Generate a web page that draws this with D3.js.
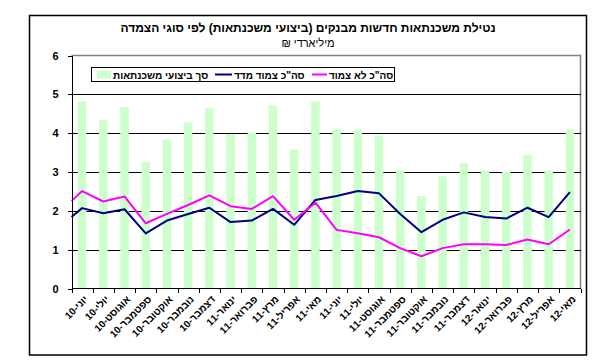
<!DOCTYPE html>
<html lang="he">
<head>
  <meta charset="UTF-8" />
  <title>נטילת משכנתאות חדשות מבנקים</title>
  <style>
    body { margin: 0; background: #fff; }
    svg text { font-family: 'Liberation Sans', Arial, sans-serif; fill: #000; }
    .grid line { stroke: #000; stroke-width: 1px; shape-rendering: crispEdges; }
    .axis path, .axis line { stroke: #000; shape-rendering: crispEdges; }
    .axis text { font-weight: bold; }
    .line { fill: none; stroke-width: 2px; stroke-linejoin: round; }
  </style>
</head>
<body>
  <svg id="chart" width="602" height="361"></svg>

  <script src="https://d3js.org/d3.v7.min.js"></script>
  <script>
    // months (x categories)
    const months = ["יוני-10", "יולי-10", "אוגוסט-10", "ספטמבר-10", "אוקטובר-10", "נובמבר-10",
      "דצמבר-10", "ינואר-11", "פברואר-11", "מרץ-11", "אפריל-11", "מאי-11", "יוני-11", "יולי-11",
      "אוגוסט-11", "ספטמבר-11", "אוקטובר-11", "נובמבר-11", "דצמבר-11", "ינואר-12", "פברואר-12",
      "מרץ-12", "אפריל-12", "מאי-12"];

    // bars: total mortgage performance
    const totalValues = [4.82, 4.33, 4.67, 3.25, 3.84, 4.28, 4.64, 3.98, 4.02, 4.71, 3.58, 4.82,
      4.09, 4.09, 3.94, 3.04, 2.38, 2.89, 3.22, 3.04, 3.0, 3.43, 3.04, 4.09];
    // lines (first value sits on the left axis)
    const indexedStart = 1.84;
    const indexedValues = [2.07, 1.94, 2.04, 1.42, 1.75, 1.92, 2.08, 1.71, 1.75, 2.05, 1.64, 2.28,
      2.38, 2.51, 2.45, 1.92, 1.45, 1.77, 1.96, 1.84, 1.80, 2.08, 1.84, 2.48];
    const unindexedStart = 2.25;
    const unindexedValues = [2.51, 2.24, 2.37, 1.68, 1.92, 2.15, 2.40, 2.12, 2.05, 2.38, 1.77, 2.21,
      1.51, 1.42, 1.32, 1.04, 0.83, 1.04, 1.14, 1.14, 1.12, 1.26, 1.14, 1.52];

    const yTicks = [0, 1, 2, 3, 4, 5, 6];
    const seriesNames = ["סך ביצועי משכנתאות", "סה\"כ צמוד מדד", "סה\"כ לא צמוד"];
    const title = "נטילת משכנתאות חדשות מבנקים (ביצועי משכנתאות) לפי סוגי הצמדה";
    const subtitle = "מיליארדי ₪";

    const svg = d3.select("#chart");
    const plot = { left: 71.5, right: 580.5, top: 55.5, bottom: 288.5 };

    // outer frame
    svg.append("rect")
      .attr("x", 29.5).attr("y", 15.5).attr("width", 557).attr("height", 339.5)
      .attr("fill", "#fff").attr("stroke", "#000").attr("stroke-width", 1.5);

    svg.append("text").attr("x", 308).attr("y", 32).attr("text-anchor", "middle")
      .style("font-size", "12px").style("font-weight", "bold").text(title);
    svg.append("text").attr("x", 308).attr("y", 47).attr("text-anchor", "middle")
      .attr("direction", "rtl").style("unicode-bidi", "embed")
      .style("font-size", "11px").text(subtitle);

    const x = d3.scaleBand().domain(months).range([plot.left, plot.right])
      .paddingInner(0.6).paddingOuter(0.3);
    const y = d3.scaleLinear().domain([0, 6]).range([plot.bottom, plot.top]);
    const cx = d => x(d) + x.bandwidth() / 2;

    // plot border (grey, top + right)
    svg.append("path")
      .attr("d", `M${plot.left},${plot.top}H${plot.right}V${plot.bottom}`)
      .attr("fill", "none").attr("stroke", "#808080").attr("stroke-width", 1.5);

    // gridlines
    svg.append("g").attr("class", "grid")
      .selectAll("line").data(yTicks.filter(t => t > 0 && t < 6)).join("line")
      .attr("x1", plot.left).attr("x2", plot.right)
      .attr("y1", d => Math.round(y(d)) + 0.5).attr("y2", d => Math.round(y(d)) + 0.5);

    // bars
    svg.append("g").selectAll("rect").data(totalValues).join("rect")
      .attr("x", (d, i) => x(months[i]))
      .attr("y", d => y(d))
      .attr("width", x.bandwidth())
      .attr("height", d => y(0) - y(d))
      .attr("fill", "#ccffcc");

    // lines
    const lineGen = d3.line().x(p => p[0]).y(p => y(p[1]));
    function linePoints(start, vals) {
      return [[plot.left, start]].concat(vals.map((v, i) => [cx(months[i]), v]));
    }
    svg.append("path").attr("class", "line").attr("stroke", "#000080")
      .attr("d", lineGen(linePoints(indexedStart, indexedValues)));
    svg.append("path").attr("class", "line").attr("stroke", "#ff00ff")
      .attr("d", lineGen(linePoints(unindexedStart, unindexedValues)));

    // y axis
    const yAxis = svg.append("g").attr("class", "axis")
      .attr("transform", `translate(${plot.left},0)`)
      .call(d3.axisLeft(y).tickValues(yTicks).tickFormat(d3.format("d"))
        .tickSize(4).tickPadding(9).tickSizeOuter(0));
    yAxis.selectAll("text").style("font-size", "11px");

    // x axis: ticks at category boundaries
    const xg = svg.append("g").attr("class", "axis");
    xg.append("line").attr("x1", plot.left).attr("x2", plot.right)
      .attr("y1", plot.bottom).attr("y2", plot.bottom);
    const step = x.step();
    const bounds = d3.range(months.length + 1).map(i => x(months[0]) - x.paddingInner() * step / 2 + i * step);
    xg.selectAll(".tk").data(bounds).join("line").attr("class", "tk")
      .attr("x1", d => Math.round(d) + 0.5).attr("x2", d => Math.round(d) + 0.5)
      .attr("y1", plot.bottom).attr("y2", plot.bottom + 4);
    xg.selectAll("text").data(months).join("text")
      .attr("transform", d => `translate(${cx(d) + 4},${plot.bottom + 9}) rotate(-45)`)
      .attr("text-anchor", "end")
      .attr("dy", "0.35em")
      .style("font-size", "10px")
      .text(d => d);

    // legend
    const lg = svg.append("g");
    lg.append("rect").attr("x", 91.5).attr("y", 67.5).attr("width", 303).attr("height", 14)
      .attr("fill", "#fff").attr("stroke", "#000");
    lg.append("rect").attr("x", 97).attr("y", 70.5).attr("width", 14).attr("height", 8).attr("fill", "#ccffcc");
    lg.append("text").attr("x", 113).attr("y", 78.5).style("font-size", "10px").style("font-weight", "bold").text(seriesNames[0]);
    lg.append("line").attr("x1", 215).attr("x2", 232).attr("y1", 74.5).attr("y2", 74.5)
      .attr("stroke", "#000080").attr("stroke-width", 2);
    lg.append("text").attr("x", 234).attr("y", 78.5).style("font-size", "10px").style("font-weight", "bold").text(seriesNames[1]);
    lg.append("line").attr("x1", 312).attr("x2", 327).attr("y1", 74.5).attr("y2", 74.5)
      .attr("stroke", "#ff00ff").attr("stroke-width", 2);
    lg.append("text").attr("x", 329).attr("y", 78.5).style("font-size", "10px").style("font-weight", "bold").text(seriesNames[2]);
  </script>
</body>
</html>
